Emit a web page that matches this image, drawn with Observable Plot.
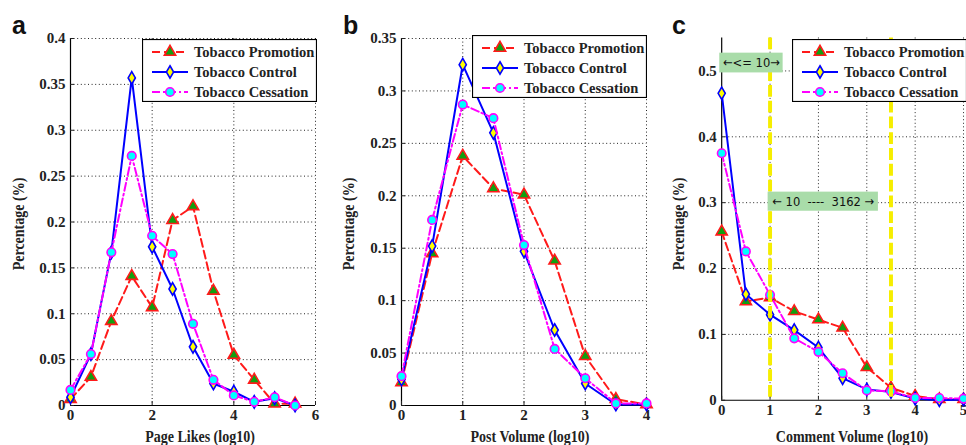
<!DOCTYPE html>
<html><head><meta charset="utf-8">
<script src="https://cdn.jsdelivr.net/npm/d3@7"></script>
<script src="https://cdn.jsdelivr.net/npm/@observablehq/plot@0.6"></script>
<style>
html,body{margin:0;padding:0;background:#fff;overflow:hidden;}
#wrap{position:relative;width:966px;height:445px;overflow:hidden;}
.panel{position:absolute;top:0;}
.panel svg{overflow:visible;}
.lbl{position:absolute;font-family:"Liberation Serif",serif;font-weight:bold;font-size:16px;color:#222;white-space:nowrap;transform:translate(-50%,-50%) scale(0.875,1);}
.ylbl{transform:translate(-50%,-50%) rotate(-90deg) scale(0.875,1);}
.letter{position:absolute;font-family:"Liberation Sans",Arial,sans-serif;font-weight:bold;font-size:25px;color:#111;line-height:1;}
</style>
</head><body>
<div id="wrap"></div>
<script>
// ---------- data ----------
const seriesNames = ["Tobacco Promotion", "Tobacco Control", "Tobacco Cessation"];

// panel a: Page Likes (log10)
const xA = [0, 0.5, 1, 1.5, 2, 2.5, 3, 3.5, 4, 4.5, 5, 5.5];
const promoA   = [0.007, 0.031, 0.092, 0.141, 0.107, 0.202, 0.217, 0.125, 0.055, 0.028, 0.002, 0.002];
const controlA = [0.009, 0.056, 0.167, 0.357, 0.173, 0.127, 0.064, 0.024, 0.015, 0.004, 0.008, 0.000];
const cessA    = [0.017, 0.056, 0.167, 0.272, 0.185, 0.165, 0.089, 0.028, 0.011, 0.004, 0.009, 0.000];
const xTicksA = [0, 2, 4, 6];
const yTicksA = [0, 0.05, 0.1, 0.15, 0.2, 0.25, 0.3, 0.35, 0.4];

// panel b: Post Volume (log10)
const xB = [0, 0.5, 1, 1.5, 2, 2.5, 3, 3.5, 4];
const promoB   = [0.022, 0.145, 0.238, 0.207, 0.201, 0.138, 0.047, 0.006, 0.001];
const controlB = [0.025, 0.152, 0.325, 0.260, 0.147, 0.072, 0.021, 0.001, 0.001];
const cessB    = [0.028, 0.177, 0.287, 0.274, 0.153, 0.054, 0.026, 0.002, 0.002];
const xTicksB = [0, 1, 2, 3, 4];
const yTicksB = [0, 0.05, 0.1, 0.15, 0.2, 0.25, 0.3, 0.35];

// panel c: Comment Volume (log10)
const xC = [0, 0.5, 1, 1.5, 2, 2.5, 3, 3.5, 4, 4.5, 5];
const promoC   = [0.256, 0.150, 0.156, 0.135, 0.1225, 0.110, 0.050, 0.019, 0.0065, 0.0015, 0.0015];
const controlC = [0.466, 0.161, 0.130, 0.1065, 0.080, 0.0335, 0.0165, 0.0125, 0.0025, 0.000, 0.001];
const cessC    = [0.375, 0.226, 0.160, 0.094, 0.0735, 0.041, 0.015, 0.0135, 0.0035, 0.0035, 0.0025];
const xTicksC = [0, 1, 2, 3, 4, 5];
const yTicksC = [0, 0.1, 0.2, 0.3, 0.4, 0.5];
const refLinesC = [1, 3.5];
const notesC = [
  {text: "\u2190<= 10\u2192", x1: -0.04, x2: 1.27, y1: 0.497, y2: 0.527},
  {text: "\u2190 10  ----  3162 \u2192", x1: 0.96, x2: 3.24, y1: 0.287, y2: 0.316}
];

// ---------- styles ----------
const styles = [
  {stroke: "#ff1a1a", dash: "8,4", symbol: "triangle", fill: "#10a010", r: 4.2},
  {stroke: "#0000ff", dash: null, symbol: "diamond", fill: "#ffff00", r: 3.8},
  {stroke: "#ff00ff", dash: "8,3,2,3", symbol: "circle", fill: "#00ffff", r: 4.3}
];
const gridStyle = {stroke: "#222", strokeOpacity: 1, strokeDasharray: "1,2.6", strokeWidth: 1};
const fontStyle = {fontFamily: "'Liberation Serif', serif", fontWeight: "bold", fontSize: "15px", color: "#222", background: "transparent", whiteSpace: "pre"};

function panel(cfg) {
  const {width, ml, mr, xDomain, yDomain, xTicks, yTicks, xs, ys, over = []} = cfg;
  const marks = [
    Plot.gridY(yTicks.filter(d => d > yDomain[0]), gridStyle),
    Plot.gridX(xTicks.filter(d => d > xDomain[0]), gridStyle),
    Plot.ruleX([xDomain[0]], {stroke: "#000", strokeWidth: 1.2}),
    Plot.ruleY([yDomain[0]], {stroke: "#000", strokeWidth: 1.2}),
    Plot.axisY(yTicks, {tickSize: -4, tickPadding: 9, tickFormat: d => String(d), label: null}),
    Plot.axisX(xTicks, {tickSize: -4, tickPadding: 8, tickFormat: d => String(d), label: null})
  ];
  ys.forEach((arr, i) => {
    const st = styles[i];
    const data = arr.map((v, j) => ({x: xs[j], y: v}));
    marks.push(Plot.line(data, {x: "x", y: "y", stroke: st.stroke, strokeWidth: 2, strokeDasharray: st.dash}));
    marks.push(Plot.dot(data, {x: "x", y: "y", symbol: st.symbol, r: st.r, fill: st.fill, stroke: st.stroke, strokeWidth: 1.6}));
  });
  marks.push(...over);
  return Plot.plot({
    width, height: 445, marginLeft: ml, marginRight: mr, marginTop: 38, marginBottom: 40,
    x: {domain: xDomain}, y: {domain: yDomain},
    style: fontStyle,
    marks
  });
}

function legend(left, top) {
  const w = 175, h = 63;
  const svg = d3.create("svg").attr("width", w).attr("height", h)
    .style("position", "absolute").style("left", left + "px").style("top", top + "px");
  svg.append("rect").attr("x", 0.5).attr("y", 0.5).attr("width", w - 1).attr("height", h - 1)
    .attr("fill", "#fff").attr("stroke", "#000").attr("stroke-width", 1.2);
  seriesNames.forEach((name, i) => {
    const st = styles[i];
    const cy = 13 + i * 20;
    svg.append("line").attr("x1", 10).attr("x2", 46).attr("y1", cy).attr("y2", cy)
      .attr("stroke", st.stroke).attr("stroke-width", 2).attr("stroke-dasharray", st.dash);
    const sym = {triangle: d3.symbolTriangle, diamond: d3.symbolDiamond, circle: d3.symbolCircle}[st.symbol];
    svg.append("path").attr("transform", `translate(28,${cy})`)
      .attr("d", d3.symbol(sym, Math.PI * st.r * st.r)())
      .attr("fill", st.fill).attr("stroke", st.stroke).attr("stroke-width", 1.6);
    svg.append("text").attr("x", 52).attr("y", cy).attr("dy", "0.36em")
      .attr("font-family", "'Liberation Serif', serif").attr("font-weight", "bold").attr("font-size", 14.5)
      .attr("fill", "#222").text(name);
  });
  return svg.node();
}

const wrap = document.getElementById("wrap");
function place(node, left) {
  const d = document.createElement("div");
  d.className = "panel"; d.style.left = left + "px";
  d.appendChild(node); wrap.appendChild(d);
}
function label(text, x, y, cls = "") {
  const d = document.createElement("div");
  d.className = "lbl " + cls; d.textContent = text;
  d.style.left = x + "px"; d.style.top = y + "px";
  wrap.appendChild(d);
}
function letter(text, x, y) {
  const d = document.createElement("div");
  d.className = "letter"; d.textContent = text;
  d.style.left = x + "px"; d.style.top = y + "px";
  wrap.appendChild(d);
}

place(panel({width: 330, ml: 70, mr: 15, xDomain: [0, 6], yDomain: [0, 0.4], xTicks: xTicksA, yTicks: yTicksA,
  xs: xA, ys: [promoA, controlA, cessA]}), 0);
place(panel({width: 330, ml: 71, mr: 14, xDomain: [0, 4], yDomain: [0, 0.35], xTicks: xTicksB, yTicks: yTicksB,
  xs: xB, ys: [promoB, controlB, cessB]}), 330);
place(panel({width: 310, ml: 62, mr: 3, xDomain: [0, 5], yDomain: [0, 0.55], xTicks: xTicksC, yTicks: yTicksC,
  xs: xC, ys: [promoC, controlC, cessC],
  over: [
    Plot.ruleX(refLinesC, {stroke: "#f6ee00", strokeWidth: 4, strokeDasharray: "12,4"}),
    Plot.rect(notesC, {x1: "x1", x2: "x2", y1: "y1", y2: "y2", fill: "#a9dca9"}),
    Plot.text(notesC, {x: d => (d.x1 + d.x2) / 2, y: d => (d.y1 + d.y2) / 2, text: "text",
      fontFamily: "'DejaVu Sans Condensed', 'DejaVu Sans', sans-serif", fontWeight: "normal", fontSize: 13, fill: "#111"})
  ]}), 660);

wrap.appendChild(legend(142, 39));
wrap.appendChild(legend(472, 35));
wrap.appendChild(legend(792, 39));

label("Page Likes (log10)", 200, 437);
label("Post Volume (log10)", 530, 437);
label("Comment Volume (log10)", 852, 437);
label("Percentage (%)", 19, 224, "ylbl");
label("Percentage (%)", 349, 224, "ylbl");
label("Percentage (%)", 679, 224, "ylbl");
letter("a", 12, 13);
letter("b", 343, 13);
letter("c", 672, 13);
</script>
</body></html>
